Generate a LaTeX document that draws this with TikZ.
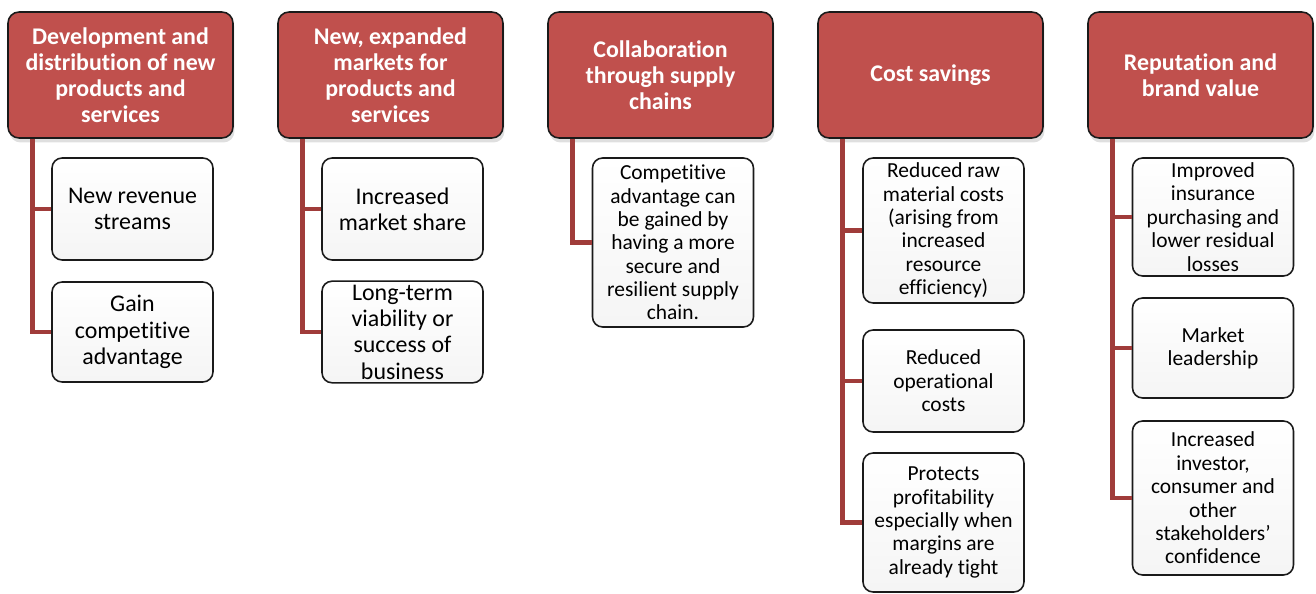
\documentclass[tikz,border=0pt]{standalone}
\usepackage{fontspec}
\setmainfont{Carlito}[Ligatures={NoCommon}]
\usetikzlibrary{shadows, calc}
\definecolor{hdrred}{HTML}{C0504D}
\definecolor{linkred}{HTML}{A03C3A}
\definecolor{boxline}{HTML}{1A1A1A}
\newcommand\stub{25}

\begin{document}
\begin{tikzpicture}[x=0.02cm, y=-0.02cm,
  head/.style={rectangle, rounded corners=0.22cm, draw=boxline, line width=0.9pt,
    fill=hdrred, text=white, align=center, minimum width=4.5cm, minimum height=2.52cm,
    font=\fontsize{13.6}{14.8}\selectfont\bfseries,
    drop shadow={shadow xshift=0.03cm, shadow yshift=-0.09cm, opacity=0.25}},
  item/.style={rectangle, rounded corners=0.2cm, draw=boxline, line width=0.9pt,
    top color=white, bottom color=gray!8, align=center, minimum width=3.22cm,
    inner sep=2pt, font=\fontsize{13.6}{15}\selectfont},
  itemsm/.style={item, font=\fontsize{12.2}{13.3}\selectfont},
  link/.style={draw=linkred, line width=2.8pt}]

\useasboundingbox (0,0) rectangle (1316,594);

% top row
\node[head] (h1) at (120.5,75) {Development and\\distribution of new\\products and\\services};
\node[head] (h2) at (390.5,75) {New, expanded\\markets for\\products and\\services};
\node[head] (h3) at (660.5,75) {Collaboration\\through supply\\chains};
\node[head] (h4) at (930.5,75) {Cost savings};
\node[head] (h5) at (1200.5,75) {Reputation and\\brand value};

% benefits
\node[item, minimum height=2.04cm] (c11) at (132.5,209) {New revenue\\streams};
\node[item, minimum height=2cm]    (c12) at (132.5,332) {Gain\\competitive\\advantage};
\node[item, minimum height=2.04cm] (c21) at (402.5,209) {Increased\\market share};
\node[item, minimum height=2cm]    (c22) at (402.5,332) {Long-term\\viability or\\success of\\business};
\node[itemsm, minimum height=3.38cm] (c31) at (673,242.5) {Competitive\\advantage can\\be gained by\\having a more\\secure and\\resilient supply\\chain.};
\node[itemsm, minimum height=2.9cm]  (c41) at (943.5,230.5) {Reduced raw\\material costs\\(arising from\\increased\\resource\\efficiency)};
\node[itemsm, minimum height=2.04cm] (c42) at (943.5,381) {Reduced\\operational\\costs};
\node[itemsm, minimum height=2.78cm] (c43) at (943.5,522.5) {Protects\\profitability\\especially when\\margins are\\already tight};
\node[itemsm, minimum height=2.36cm] (c51) at (1213,217) {Improved\\insurance\\purchasing and\\lower residual\\losses};
\node[itemsm, minimum height=2cm]    (c52) at (1213,348) {Market\\leadership};
\node[itemsm, minimum height=3.08cm] (c53) at (1213,498) {Increased\\investor,\\consumer and\\other\\stakeholders’\\confidence};

% connectors
\foreach \h/\c in {h1/c11, h1/c12, h2/c21, h2/c22, h3/c31, h4/c41, h4/c42, h4/c43, h5/c51, h5/c52, h5/c53}
  \draw[link] ($(\h.south west)+(\stub,0)$) |- (\c.west);

\end{tikzpicture}
\end{document}
